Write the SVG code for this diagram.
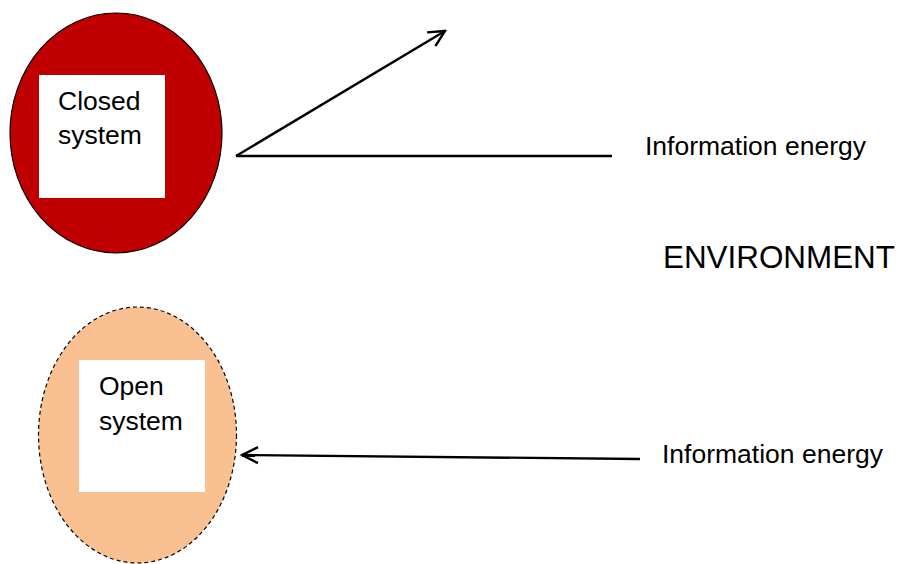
<svg xmlns="http://www.w3.org/2000/svg" width="901" height="564" viewBox="0 0 901 564">
<defs>
<style>
text{font-family:"Liberation Sans",Arial,sans-serif;fill:#000}
.lbl{font-size:26.5px}
.conn{stroke:#000;stroke-width:2.4;fill:none}
</style>
<marker id="ah" viewBox="0 0 20 20" refX="18" refY="10" markerWidth="20" markerHeight="20" markerUnits="userSpaceOnUse" orient="auto">
<path d="M2,2 L18,10 L2,18" fill="none" stroke="#000" stroke-width="2.4"/>
</marker>
</defs>
<rect width="901" height="564" fill="#fff"/>
<g id="closed-system">
<ellipse cx="116" cy="133" rx="106" ry="120" fill="#c00000" stroke="#000" stroke-width="1.2"/>
<rect x="39" y="75" width="126" height="123" fill="#fff"/>
<text class="lbl" x="58" y="110">Closed</text>
<text class="lbl" x="58" y="144">system</text>
</g>
<g id="open-system">
<ellipse cx="137.5" cy="435" rx="99" ry="128" fill="#f9c191" stroke="#000" stroke-width="1.2" stroke-dasharray="4,3"/>
<rect x="79" y="360" width="126" height="132" fill="#fff"/>
<text class="lbl" x="99" y="395">Open</text>
<text class="lbl" x="99" y="430">system</text>
</g>
<g id="connectors">
<line class="conn" x1="236" y1="156" x2="445" y2="31" marker-end="url(#ah)"/>
<line class="conn" x1="236" y1="156" x2="612" y2="156"/>
<line class="conn" x1="640" y1="459" x2="242" y2="455" marker-end="url(#ah)"/>
</g>
<g id="labels">
<text class="lbl" x="645" y="155">Information energy</text>
<text x="663" y="268" style="font-size:31.4px">ENVIRONMENT</text>
<text class="lbl" x="662" y="463">Information energy</text>
</g>
</svg>
